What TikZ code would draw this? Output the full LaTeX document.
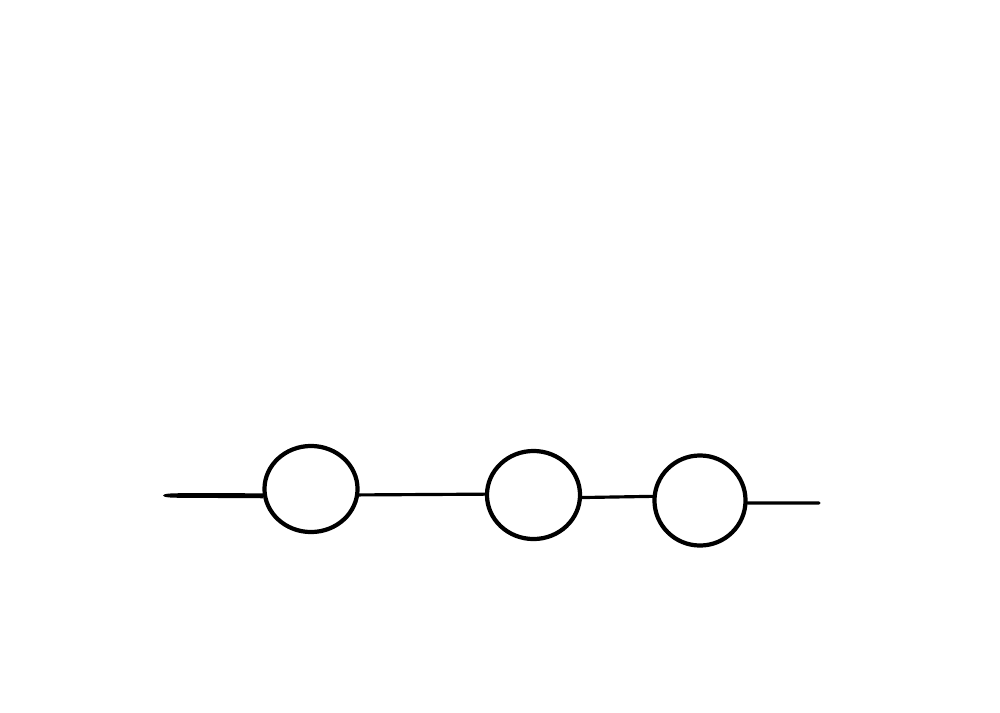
\documentclass[tikz,border=0pt]{standalone}
\usetikzlibrary{shapes.geometric}
\begin{document}
\begin{tikzpicture}[x=0.01cm,y=-0.01cm,
  bead/.style={draw=black,ellipse,line width=1.2pt,inner sep=0pt},
  wire/.style={draw=black,line width=0.9pt,line cap=round}]
\useasboundingbox (0,0) rectangle (1000,712);
\node[bead,minimum width=0.93cm,minimum height=0.86cm] (c1) at (311,489) {};
\node[bead,minimum width=0.93cm,minimum height=0.88cm] (c2) at (533.5,495) {};
\node[bead,minimum width=0.91cm,minimum height=0.90cm] (c3) at (700,500.5) {};
\coordinate (l) at (163,495.5);
\coordinate (r) at (819,503);
\fill[black] (l) .. controls (164,493.5) and (170,493.2) .. (185,493.2) -- ([yshift=0.025cm]c1.188) -- ([yshift=-0.025cm]c1.188) -- (185,497.8) .. controls (170,497.8) and (164,497.5) .. (l) -- cycle;
\draw[wire] (c1.353) -- (c2.179);
\draw[wire] (c2.357) -- (c3.175);
\draw[wire] (c3.357) -- (r);
\end{tikzpicture}
\end{document}
